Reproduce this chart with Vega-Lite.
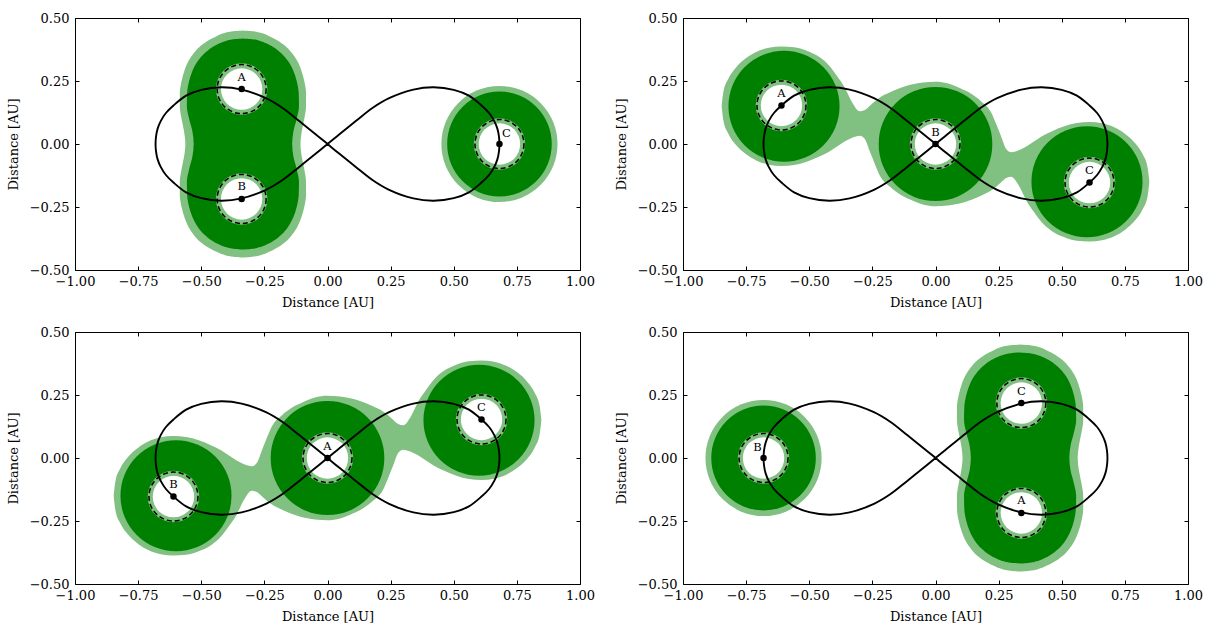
{
"$schema":"https://vega.github.io/schema/vega-lite/v6.json",
"padding":{"left":7,"top":12,"right":5,"bottom":5},
"background":"white",
"datasets":{
"orbit":[{"i":0,"x":0,"y":0},{"i":1,"x":0.046,"y":0.038},{"i":2,"x":0.112,"y":0.091},{"i":3,"x":0.178,"y":0.143},{"i":4,"x":0.244,"y":0.182},{"i":5,"x":0.34,"y":0.216},{"i":6,"x":0.42,"y":0.225},{"i":7,"x":0.5,"y":0.215},{"i":8,"x":0.56,"y":0.192},{"i":9,"x":0.61,"y":0.153},{"i":10,"x":0.64,"y":0.123},{"i":11,"x":0.66,"y":0.092},{"i":12,"x":0.673,"y":0.06},{"i":13,"x":0.679,"y":0.03},{"i":14,"x":0.681,"y":0},
{"i":15,"x":0.679,"y":-0.03},{"i":16,"x":0.673,"y":-0.06},{"i":17,"x":0.66,"y":-0.092},{"i":18,"x":0.64,"y":-0.123},{"i":19,"x":0.61,"y":-0.153},{"i":20,"x":0.56,"y":-0.192},{"i":21,"x":0.5,"y":-0.215},{"i":22,"x":0.42,"y":-0.225},{"i":23,"x":0.34,"y":-0.216},{"i":24,"x":0.244,"y":-0.182},{"i":25,"x":0.178,"y":-0.143},{"i":26,"x":0.112,"y":-0.091},{"i":27,"x":0.046,"y":-0.038},{"i":28,"x":0,"y":0},
{"i":29,"x":-0.046,"y":0.038},{"i":30,"x":-0.112,"y":0.091},{"i":31,"x":-0.178,"y":0.143},{"i":32,"x":-0.244,"y":0.182},{"i":33,"x":-0.34,"y":0.216},{"i":34,"x":-0.42,"y":0.225},{"i":35,"x":-0.5,"y":0.215},{"i":36,"x":-0.56,"y":0.192},{"i":37,"x":-0.61,"y":0.153},{"i":38,"x":-0.64,"y":0.123},{"i":39,"x":-0.66,"y":0.092},{"i":40,"x":-0.673,"y":0.06},{"i":41,"x":-0.679,"y":0.03},{"i":42,"x":-0.681,"y":0},
{"i":43,"x":-0.679,"y":-0.03},{"i":44,"x":-0.673,"y":-0.06},{"i":45,"x":-0.66,"y":-0.092},{"i":46,"x":-0.64,"y":-0.123},{"i":47,"x":-0.61,"y":-0.153},{"i":48,"x":-0.56,"y":-0.192},{"i":49,"x":-0.5,"y":-0.215},{"i":50,"x":-0.42,"y":-0.225},{"i":51,"x":-0.34,"y":-0.216},{"i":52,"x":-0.244,"y":-0.182},{"i":53,"x":-0.178,"y":-0.143},{"i":54,"x":-0.112,"y":-0.091},{"i":55,"x":-0.046,"y":-0.038},{"i":56,"x":0,"y":0}],
"stars":[{"p":1,"s":"A","x":-0.34,"y":0.218},{"p":1,"s":"B","x":-0.34,"y":-0.218},{"p":1,"s":"C","x":0.681,"y":0},
{"p":2,"s":"A","x":-0.61,"y":0.153},{"p":2,"s":"B","x":0,"y":0},{"p":2,"s":"C","x":0.61,"y":-0.153},
{"p":3,"s":"B","x":-0.61,"y":-0.153},{"p":3,"s":"A","x":0,"y":0},{"p":3,"s":"C","x":0.61,"y":0.153},
{"p":4,"s":"B","x":-0.681,"y":0},{"p":4,"s":"C","x":0.34,"y":0.218},{"p":4,"s":"A","x":0.34,"y":-0.218}],
"circ":[{"p":1,"k":"l","x":0.681,"y":0,"r":0.23},{"p":1,"k":"d","x":0.681,"y":0,"r":0.207},
{"p":2,"k":"d","x":-0.6,"y":0.15,"r":0.22},{"p":2,"k":"d","x":0,"y":0,"r":0.225},{"p":2,"k":"d","x":0.6,"y":-0.15,"r":0.22},
{"p":3,"k":"d","x":-0.6,"y":-0.15,"r":0.22},{"p":3,"k":"d","x":0,"y":0,"r":0.225},{"p":3,"k":"d","x":0.6,"y":0.15,"r":0.22},
{"p":4,"k":"l","x":-0.681,"y":0,"r":0.23},{"p":4,"k":"d","x":-0.681,"y":0,"r":0.207}],
"pea":[
{"p":1,"k":"d","y":0.419,"x":-0.335,"x2":-0.335},{"p":1,"k":"d","y":0.417,"x":-0.365,"x2":-0.305},{"p":1,"k":"d","y":0.41,"x":-0.4,"x2":-0.27},{"p":1,"k":"d","y":0.4,"x":-0.427,"x2":-0.243},{"p":1,"k":"d","y":0.385,"x":-0.455,"x2":-0.215},{"p":1,"k":"d","y":0.36,"x":-0.487,"x2":-0.183},{"p":1,"k":"d","y":0.33,"x":-0.513,"x2":-0.157},{"p":1,"k":"d","y":0.29,"x":-0.535,"x2":-0.135},{"p":1,"k":"d","y":0.25,"x":-0.548,"x2":-0.122},{"p":1,"k":"d","y":0.2,"x":-0.556,"x2":-0.114},{"p":1,"k":"d","y":0.15,"x":-0.557,"x2":-0.113},{"p":1,"k":"d","y":0.1,"x":-0.548,"x2":-0.122},{"p":1,"k":"d","y":0.05,"x":-0.535,"x2":-0.135},{"p":1,"k":"d","y":0,"x":-0.53,"x2":-0.14},
{"p":1,"k":"d","y":-0.05,"x":-0.535,"x2":-0.135},{"p":1,"k":"d","y":-0.1,"x":-0.548,"x2":-0.122},{"p":1,"k":"d","y":-0.15,"x":-0.557,"x2":-0.113},{"p":1,"k":"d","y":-0.2,"x":-0.556,"x2":-0.114},{"p":1,"k":"d","y":-0.25,"x":-0.548,"x2":-0.122},{"p":1,"k":"d","y":-0.29,"x":-0.535,"x2":-0.135},{"p":1,"k":"d","y":-0.33,"x":-0.513,"x2":-0.157},{"p":1,"k":"d","y":-0.36,"x":-0.487,"x2":-0.183},{"p":1,"k":"d","y":-0.385,"x":-0.455,"x2":-0.215},{"p":1,"k":"d","y":-0.4,"x":-0.427,"x2":-0.243},{"p":1,"k":"d","y":-0.41,"x":-0.4,"x2":-0.27},{"p":1,"k":"d","y":-0.417,"x":-0.365,"x2":-0.305},{"p":1,"k":"d","y":-0.419,"x":-0.335,"x2":-0.335},
{"p":1,"k":"l","y":0.45,"x":-0.335,"x2":-0.335},{"p":1,"k":"l","y":0.448,"x":-0.365,"x2":-0.305},{"p":1,"k":"l","y":0.441,"x":-0.405,"x2":-0.265},{"p":1,"k":"l","y":0.43,"x":-0.435,"x2":-0.235},{"p":1,"k":"l","y":0.415,"x":-0.465,"x2":-0.205},{"p":1,"k":"l","y":0.39,"x":-0.502,"x2":-0.168},{"p":1,"k":"l","y":0.36,"x":-0.53,"x2":-0.14},{"p":1,"k":"l","y":0.33,"x":-0.55,"x2":-0.12},{"p":1,"k":"l","y":0.29,"x":-0.567,"x2":-0.103},{"p":1,"k":"l","y":0.25,"x":-0.578,"x2":-0.092},{"p":1,"k":"l","y":0.2,"x":-0.585,"x2":-0.085},{"p":1,"k":"l","y":0.15,"x":-0.585,"x2":-0.085},{"p":1,"k":"l","y":0.1,"x":-0.578,"x2":-0.092},{"p":1,"k":"l","y":0.05,"x":-0.568,"x2":-0.102},{"p":1,"k":"l","y":0,"x":-0.563,"x2":-0.107},
{"p":1,"k":"l","y":-0.05,"x":-0.568,"x2":-0.102},{"p":1,"k":"l","y":-0.1,"x":-0.578,"x2":-0.092},{"p":1,"k":"l","y":-0.15,"x":-0.585,"x2":-0.085},{"p":1,"k":"l","y":-0.2,"x":-0.585,"x2":-0.085},{"p":1,"k":"l","y":-0.25,"x":-0.578,"x2":-0.092},{"p":1,"k":"l","y":-0.29,"x":-0.567,"x2":-0.103},{"p":1,"k":"l","y":-0.33,"x":-0.55,"x2":-0.12},{"p":1,"k":"l","y":-0.36,"x":-0.53,"x2":-0.14},{"p":1,"k":"l","y":-0.39,"x":-0.502,"x2":-0.168},{"p":1,"k":"l","y":-0.415,"x":-0.465,"x2":-0.205},{"p":1,"k":"l","y":-0.43,"x":-0.435,"x2":-0.235},{"p":1,"k":"l","y":-0.441,"x":-0.405,"x2":-0.265},{"p":1,"k":"l","y":-0.448,"x":-0.365,"x2":-0.305},{"p":1,"k":"l","y":-0.45,"x":-0.335,"x2":-0.335},
{"p":4,"k":"d","y":0.419,"x":0.335,"x2":0.335},{"p":4,"k":"d","y":0.417,"x":0.305,"x2":0.365},{"p":4,"k":"d","y":0.41,"x":0.27,"x2":0.4},{"p":4,"k":"d","y":0.4,"x":0.243,"x2":0.427},{"p":4,"k":"d","y":0.385,"x":0.215,"x2":0.455},{"p":4,"k":"d","y":0.36,"x":0.183,"x2":0.487},{"p":4,"k":"d","y":0.33,"x":0.157,"x2":0.513},{"p":4,"k":"d","y":0.29,"x":0.135,"x2":0.535},{"p":4,"k":"d","y":0.25,"x":0.122,"x2":0.548},{"p":4,"k":"d","y":0.2,"x":0.114,"x2":0.556},{"p":4,"k":"d","y":0.15,"x":0.113,"x2":0.557},{"p":4,"k":"d","y":0.1,"x":0.122,"x2":0.548},{"p":4,"k":"d","y":0.05,"x":0.135,"x2":0.535},{"p":4,"k":"d","y":0,"x":0.14,"x2":0.53},
{"p":4,"k":"d","y":-0.05,"x":0.135,"x2":0.535},{"p":4,"k":"d","y":-0.1,"x":0.122,"x2":0.548},{"p":4,"k":"d","y":-0.15,"x":0.113,"x2":0.557},{"p":4,"k":"d","y":-0.2,"x":0.114,"x2":0.556},{"p":4,"k":"d","y":-0.25,"x":0.122,"x2":0.548},{"p":4,"k":"d","y":-0.29,"x":0.135,"x2":0.535},{"p":4,"k":"d","y":-0.33,"x":0.157,"x2":0.513},{"p":4,"k":"d","y":-0.36,"x":0.183,"x2":0.487},{"p":4,"k":"d","y":-0.385,"x":0.215,"x2":0.455},{"p":4,"k":"d","y":-0.4,"x":0.243,"x2":0.427},{"p":4,"k":"d","y":-0.41,"x":0.27,"x2":0.4},{"p":4,"k":"d","y":-0.417,"x":0.305,"x2":0.365},{"p":4,"k":"d","y":-0.419,"x":0.335,"x2":0.335},
{"p":4,"k":"l","y":0.45,"x":0.335,"x2":0.335},{"p":4,"k":"l","y":0.448,"x":0.305,"x2":0.365},{"p":4,"k":"l","y":0.441,"x":0.265,"x2":0.405},{"p":4,"k":"l","y":0.43,"x":0.235,"x2":0.435},{"p":4,"k":"l","y":0.415,"x":0.205,"x2":0.465},{"p":4,"k":"l","y":0.39,"x":0.168,"x2":0.502},{"p":4,"k":"l","y":0.36,"x":0.14,"x2":0.53},{"p":4,"k":"l","y":0.33,"x":0.12,"x2":0.55},{"p":4,"k":"l","y":0.29,"x":0.103,"x2":0.567},{"p":4,"k":"l","y":0.25,"x":0.092,"x2":0.578},{"p":4,"k":"l","y":0.2,"x":0.085,"x2":0.585},{"p":4,"k":"l","y":0.15,"x":0.085,"x2":0.585},{"p":4,"k":"l","y":0.1,"x":0.092,"x2":0.578},{"p":4,"k":"l","y":0.05,"x":0.102,"x2":0.568},{"p":4,"k":"l","y":0,"x":0.107,"x2":0.563},
{"p":4,"k":"l","y":-0.05,"x":0.102,"x2":0.568},{"p":4,"k":"l","y":-0.1,"x":0.092,"x2":0.578},{"p":4,"k":"l","y":-0.15,"x":0.085,"x2":0.585},{"p":4,"k":"l","y":-0.2,"x":0.085,"x2":0.585},{"p":4,"k":"l","y":-0.25,"x":0.092,"x2":0.578},{"p":4,"k":"l","y":-0.29,"x":0.103,"x2":0.567},{"p":4,"k":"l","y":-0.33,"x":0.12,"x2":0.55},{"p":4,"k":"l","y":-0.36,"x":0.14,"x2":0.53},{"p":4,"k":"l","y":-0.39,"x":0.168,"x2":0.502},{"p":4,"k":"l","y":-0.415,"x":0.205,"x2":0.465},{"p":4,"k":"l","y":-0.43,"x":0.235,"x2":0.435},{"p":4,"k":"l","y":-0.441,"x":0.265,"x2":0.405},{"p":4,"k":"l","y":-0.448,"x":0.305,"x2":0.365},{"p":4,"k":"l","y":-0.45,"x":0.335,"x2":0.335}],
"chain":[
{"p":2,"x":-0.847,"y":0.15,"y2":0.15},{"p":2,"x":-0.84,"y":0.093,"y2":0.207},{"p":2,"x":-0.82,"y":0.04,"y2":0.26},{"p":2,"x":-0.79,"y":-0.004,"y2":0.304},{"p":2,"x":-0.75,"y":-0.041,"y2":0.341},{"p":2,"x":-0.71,"y":-0.065,"y2":0.365},{"p":2,"x":-0.66,"y":-0.082,"y2":0.382},{"p":2,"x":-0.61,"y":-0.087,"y2":0.387},{"p":2,"x":-0.56,"y":-0.083,"y2":0.384},{"p":2,"x":-0.51,"y":-0.07,"y2":0.37},{"p":2,"x":-0.46,"y":-0.05,"y2":0.345},{"p":2,"x":-0.42,"y":-0.03,"y2":0.31},{"p":2,"x":-0.39,"y":-0.01,"y2":0.27},{"p":2,"x":-0.36,"y":0.01,"y2":0.225},{"p":2,"x":-0.33,"y":0.025,"y2":0.165},{"p":2,"x":-0.3,"y":0.033,"y2":0.13},{"p":2,"x":-0.28,"y":0.02,"y2":0.135},{"p":2,"x":-0.26,"y":-0.03,"y2":0.152},{"p":2,"x":-0.24,"y":-0.08,"y2":0.17},{"p":2,"x":-0.22,"y":-0.126,"y2":0.185},{"p":2,"x":-0.18,"y":-0.17,"y2":0.205},{"p":2,"x":-0.14,"y":-0.2,"y2":0.222},{"p":2,"x":-0.1,"y":-0.22,"y2":0.235},{"p":2,"x":-0.05,"y":-0.24,"y2":0.244},{"p":2,"x":0,"y":-0.247,"y2":0.247},
{"p":2,"x":0.05,"y":-0.244,"y2":0.24},{"p":2,"x":0.1,"y":-0.235,"y2":0.22},{"p":2,"x":0.14,"y":-0.222,"y2":0.2},{"p":2,"x":0.18,"y":-0.205,"y2":0.17},{"p":2,"x":0.22,"y":-0.185,"y2":0.126},{"p":2,"x":0.24,"y":-0.17,"y2":0.08},{"p":2,"x":0.26,"y":-0.152,"y2":0.03},{"p":2,"x":0.28,"y":-0.135,"y2":-0.02},{"p":2,"x":0.3,"y":-0.13,"y2":-0.033},{"p":2,"x":0.33,"y":-0.165,"y2":-0.025},{"p":2,"x":0.36,"y":-0.225,"y2":-0.01},{"p":2,"x":0.39,"y":-0.27,"y2":0.01},{"p":2,"x":0.42,"y":-0.31,"y2":0.03},{"p":2,"x":0.46,"y":-0.345,"y2":0.05},{"p":2,"x":0.51,"y":-0.37,"y2":0.07},{"p":2,"x":0.56,"y":-0.384,"y2":0.083},{"p":2,"x":0.61,"y":-0.387,"y2":0.087},{"p":2,"x":0.66,"y":-0.382,"y2":0.082},{"p":2,"x":0.71,"y":-0.365,"y2":0.065},{"p":2,"x":0.75,"y":-0.341,"y2":0.041},{"p":2,"x":0.79,"y":-0.304,"y2":0.004},{"p":2,"x":0.82,"y":-0.26,"y2":-0.04},{"p":2,"x":0.84,"y":-0.207,"y2":-0.093},{"p":2,"x":0.847,"y":-0.15,"y2":-0.15},
{"p":3,"x":-0.847,"y":-0.15,"y2":-0.15},{"p":3,"x":-0.84,"y":-0.207,"y2":-0.093},{"p":3,"x":-0.82,"y":-0.26,"y2":-0.04},{"p":3,"x":-0.79,"y":-0.304,"y2":0.004},{"p":3,"x":-0.75,"y":-0.341,"y2":0.041},{"p":3,"x":-0.71,"y":-0.365,"y2":0.065},{"p":3,"x":-0.66,"y":-0.382,"y2":0.082},{"p":3,"x":-0.61,"y":-0.387,"y2":0.087},{"p":3,"x":-0.56,"y":-0.384,"y2":0.083},{"p":3,"x":-0.51,"y":-0.37,"y2":0.07},{"p":3,"x":-0.46,"y":-0.345,"y2":0.05},{"p":3,"x":-0.42,"y":-0.31,"y2":0.03},{"p":3,"x":-0.39,"y":-0.27,"y2":0.01},{"p":3,"x":-0.36,"y":-0.225,"y2":-0.01},{"p":3,"x":-0.33,"y":-0.165,"y2":-0.025},{"p":3,"x":-0.3,"y":-0.13,"y2":-0.033},{"p":3,"x":-0.28,"y":-0.135,"y2":-0.02},{"p":3,"x":-0.26,"y":-0.152,"y2":0.03},{"p":3,"x":-0.24,"y":-0.17,"y2":0.08},{"p":3,"x":-0.22,"y":-0.185,"y2":0.126},{"p":3,"x":-0.18,"y":-0.205,"y2":0.17},{"p":3,"x":-0.14,"y":-0.222,"y2":0.2},{"p":3,"x":-0.1,"y":-0.235,"y2":0.22},{"p":3,"x":-0.05,"y":-0.244,"y2":0.24},{"p":3,"x":0,"y":-0.247,"y2":0.247},
{"p":3,"x":0.05,"y":-0.24,"y2":0.244},{"p":3,"x":0.1,"y":-0.22,"y2":0.235},{"p":3,"x":0.14,"y":-0.2,"y2":0.222},{"p":3,"x":0.18,"y":-0.17,"y2":0.205},{"p":3,"x":0.22,"y":-0.126,"y2":0.185},{"p":3,"x":0.24,"y":-0.08,"y2":0.17},{"p":3,"x":0.26,"y":-0.03,"y2":0.152},{"p":3,"x":0.28,"y":0.02,"y2":0.135},{"p":3,"x":0.3,"y":0.033,"y2":0.13},{"p":3,"x":0.33,"y":0.025,"y2":0.165},{"p":3,"x":0.36,"y":0.01,"y2":0.225},{"p":3,"x":0.39,"y":-0.01,"y2":0.27},{"p":3,"x":0.42,"y":-0.03,"y2":0.31},{"p":3,"x":0.46,"y":-0.05,"y2":0.345},{"p":3,"x":0.51,"y":-0.07,"y2":0.37},{"p":3,"x":0.56,"y":-0.083,"y2":0.384},{"p":3,"x":0.61,"y":-0.087,"y2":0.387},{"p":3,"x":0.66,"y":-0.082,"y2":0.382},{"p":3,"x":0.71,"y":-0.065,"y2":0.365},{"p":3,"x":0.75,"y":-0.041,"y2":0.341},{"p":3,"x":0.79,"y":-0.004,"y2":0.304},{"p":3,"x":0.82,"y":0.04,"y2":0.26},{"p":3,"x":0.84,"y":0.093,"y2":0.207},{"p":3,"x":0.847,"y":0.15,"y2":0.15}]
},
"columns":2,
"spacing":{"row":62,"column":103},
"bounds":"flush",
"concat":[
{"width":505,"height":252,
"encoding":{"x":{"field":"x","type":"quantitative","scale":{"domain":[-1,1],"nice":false,"zero":false},"axis":null},"y":{"field":"y","type":"quantitative","scale":{"domain":[-0.5,0.5],"nice":false,"zero":false},"axis":null}},
"resolve":{"axis":{"x":"independent","y":"independent"}},
"layer":[
{"data":{"name":"pea"},"transform":[{"filter":"datum.p==1 && datum.k=='l'"}],"mark":{"type":"area","orient":"horizontal","interpolate":"monotone","color":"#80c080"},"encoding":{"x":{"field":"x","type":"quantitative","scale":{"domain":[-1,1],"nice":false,"zero":false},"axis":{"orient":"bottom","values":[-1,-0.75,-0.5,-0.25,0,0.25,0.5,0.75,1],"format":".2f","title":"Distance [AU]","labelPadding":9,"titlePadding":8}},"x2":{"field":"x2"},"y":{"field":"y","type":"quantitative","scale":{"domain":[-0.5,0.5],"nice":false,"zero":false},"axis":{"orient":"left","values":[-0.5,-0.25,0,0.25,0.5],"format":".2f","title":"Distance [AU]","labelPadding":10,"titlePadding":9}}}},
{"data":{"name":"circ"},"transform":[{"filter":"datum.p==1 && datum.k=='l'"}],"mark":{"type":"point","shape":"circle","filled":true,"color":"#80c080","opacity":1,"strokeWidth":0},"encoding":{"size":{"field":"r","type":"quantitative","scale":{"type":"pow","exponent":2,"domain":[0,1],"range":[0,255025]},"legend":null}}},
{"data":{"name":"pea"},"transform":[{"filter":"datum.p==1 && datum.k=='d'"}],"mark":{"type":"area","orient":"horizontal","interpolate":"monotone","color":"#008000"},"encoding":{"x2":{"field":"x2"}}},
{"data":{"name":"circ"},"transform":[{"filter":"datum.p==1 && datum.k=='d'"}],"mark":{"type":"point","shape":"circle","filled":true,"color":"#008000","opacity":1,"strokeWidth":0},"encoding":{"size":{"field":"r","type":"quantitative","scale":{"type":"pow","exponent":2,"domain":[0,1],"range":[0,255025]},"legend":null}}},
{"data":{"name":"stars"},"transform":[{"filter":"datum.p==1"}],"mark":{"type":"point","shape":"circle","filled":true,"color":"#80c080","opacity":1,"strokeWidth":0,"size":2652}},
{"data":{"name":"stars"},"transform":[{"filter":"datum.p==1"}],"mark":{"type":"point","shape":"circle","filled":true,"color":"#ffffff","opacity":1,"strokeWidth":0,"size":1714}},
{"data":{"name":"stars"},"transform":[{"filter":"datum.p==1"}],"mark":{"type":"point","shape":"circle","filled":false,"stroke":"#000000","opacity":1,"strokeWidth":1.5,"strokeDash":[5,3],"size":2400}},
{"data":{"name":"orbit"},"mark":{"type":"line","color":"#000000","strokeWidth":1.9,"interpolate":"catmull-rom"},"encoding":{"order":{"field":"i","type":"quantitative"}}},
{"data":{"name":"stars"},"transform":[{"filter":"datum.p==1"}],"mark":{"type":"point","shape":"circle","filled":true,"color":"#000000","opacity":1,"size":42},"encoding":{"x":{"field":"x","type":"quantitative","scale":{"domain":[-1,1],"nice":false,"zero":false},"axis":{"orient":"top","values":[-1,-0.75,-0.5,-0.25,0,0.25,0.5,0.75,1],"labels":false,"title":null}},"y":{"field":"y","type":"quantitative","scale":{"domain":[-0.5,0.5],"nice":false,"zero":false},"axis":{"orient":"right","values":[-0.5,-0.25,0,0.25,0.5],"labels":false,"title":null}}}},
{"data":{"name":"stars"},"transform":[{"filter":"datum.p==1 && datum.s!='C'"}],"mark":{"type":"text","font":"DejaVu Serif","fontSize":11.5,"color":"#000000","dy":-11.5,"baseline":"middle"},"encoding":{"text":{"field":"s"}}},
{"data":{"name":"stars"},"transform":[{"filter":"datum.p==1 && datum.s=='C'"}],"mark":{"type":"text","font":"DejaVu Serif","fontSize":11.5,"color":"#000000","dy":-10,"dx":7,"baseline":"middle"},"encoding":{"text":{"field":"s"}}}
]},
{"width":505,"height":252,
"encoding":{"x":{"field":"x","type":"quantitative","scale":{"domain":[-1,1],"nice":false,"zero":false},"axis":null},"y":{"field":"y","type":"quantitative","scale":{"domain":[-0.5,0.5],"nice":false,"zero":false},"axis":null}},
"resolve":{"axis":{"x":"independent","y":"independent"}},
"layer":[
{"data":{"name":"chain"},"transform":[{"filter":"datum.p==2"}],"mark":{"type":"area","orient":"vertical","interpolate":"monotone","color":"#80c080"},"encoding":{"x":{"field":"x","type":"quantitative","scale":{"domain":[-1,1],"nice":false,"zero":false},"axis":{"orient":"bottom","values":[-1,-0.75,-0.5,-0.25,0,0.25,0.5,0.75,1],"format":".2f","title":"Distance [AU]","labelPadding":9,"titlePadding":8}},"y2":{"field":"y2"},"y":{"field":"y","type":"quantitative","scale":{"domain":[-0.5,0.5],"nice":false,"zero":false},"axis":{"orient":"left","values":[-0.5,-0.25,0,0.25,0.5],"format":".2f","title":"Distance [AU]","labelPadding":10,"titlePadding":9}}}},
{"data":{"name":"circ"},"transform":[{"filter":"datum.p==2 && datum.k=='d'"}],"mark":{"type":"point","shape":"circle","filled":true,"color":"#008000","opacity":1,"strokeWidth":0},"encoding":{"size":{"field":"r","type":"quantitative","scale":{"type":"pow","exponent":2,"domain":[0,1],"range":[0,255025]},"legend":null}}},
{"data":{"name":"stars"},"transform":[{"filter":"datum.p==2"}],"mark":{"type":"point","shape":"circle","filled":true,"color":"#80c080","opacity":1,"strokeWidth":0,"size":2652}},
{"data":{"name":"stars"},"transform":[{"filter":"datum.p==2"}],"mark":{"type":"point","shape":"circle","filled":true,"color":"#ffffff","opacity":1,"strokeWidth":0,"size":1714}},
{"data":{"name":"stars"},"transform":[{"filter":"datum.p==2"}],"mark":{"type":"point","shape":"circle","filled":false,"stroke":"#000000","opacity":1,"strokeWidth":1.5,"strokeDash":[5,3],"size":2400}},
{"data":{"name":"orbit"},"mark":{"type":"line","color":"#000000","strokeWidth":1.9,"interpolate":"catmull-rom"},"encoding":{"order":{"field":"i","type":"quantitative"}}},
{"data":{"name":"stars"},"transform":[{"filter":"datum.p==2"}],"mark":{"type":"point","shape":"circle","filled":true,"color":"#000000","opacity":1,"size":42},"encoding":{"x":{"field":"x","type":"quantitative","scale":{"domain":[-1,1],"nice":false,"zero":false},"axis":{"orient":"top","values":[-1,-0.75,-0.5,-0.25,0,0.25,0.5,0.75,1],"labels":false,"title":null}},"y":{"field":"y","type":"quantitative","scale":{"domain":[-0.5,0.5],"nice":false,"zero":false},"axis":{"orient":"right","values":[-0.5,-0.25,0,0.25,0.5],"labels":false,"title":null}}}},
{"data":{"name":"stars"},"transform":[{"filter":"datum.p==2"}],"mark":{"type":"text","font":"DejaVu Serif","fontSize":11.5,"color":"#000000","dy":-11.5,"baseline":"middle"},"encoding":{"text":{"field":"s"}}}
]},
{"width":505,"height":252,
"encoding":{"x":{"field":"x","type":"quantitative","scale":{"domain":[-1,1],"nice":false,"zero":false},"axis":null},"y":{"field":"y","type":"quantitative","scale":{"domain":[-0.5,0.5],"nice":false,"zero":false},"axis":null}},
"resolve":{"axis":{"x":"independent","y":"independent"}},
"layer":[
{"data":{"name":"chain"},"transform":[{"filter":"datum.p==3"}],"mark":{"type":"area","orient":"vertical","interpolate":"monotone","color":"#80c080"},"encoding":{"x":{"field":"x","type":"quantitative","scale":{"domain":[-1,1],"nice":false,"zero":false},"axis":{"orient":"bottom","values":[-1,-0.75,-0.5,-0.25,0,0.25,0.5,0.75,1],"format":".2f","title":"Distance [AU]","labelPadding":9,"titlePadding":8}},"y2":{"field":"y2"},"y":{"field":"y","type":"quantitative","scale":{"domain":[-0.5,0.5],"nice":false,"zero":false},"axis":{"orient":"left","values":[-0.5,-0.25,0,0.25,0.5],"format":".2f","title":"Distance [AU]","labelPadding":10,"titlePadding":9}}}},
{"data":{"name":"circ"},"transform":[{"filter":"datum.p==3 && datum.k=='d'"}],"mark":{"type":"point","shape":"circle","filled":true,"color":"#008000","opacity":1,"strokeWidth":0},"encoding":{"size":{"field":"r","type":"quantitative","scale":{"type":"pow","exponent":2,"domain":[0,1],"range":[0,255025]},"legend":null}}},
{"data":{"name":"stars"},"transform":[{"filter":"datum.p==3"}],"mark":{"type":"point","shape":"circle","filled":true,"color":"#80c080","opacity":1,"strokeWidth":0,"size":2652}},
{"data":{"name":"stars"},"transform":[{"filter":"datum.p==3"}],"mark":{"type":"point","shape":"circle","filled":true,"color":"#ffffff","opacity":1,"strokeWidth":0,"size":1714}},
{"data":{"name":"stars"},"transform":[{"filter":"datum.p==3"}],"mark":{"type":"point","shape":"circle","filled":false,"stroke":"#000000","opacity":1,"strokeWidth":1.5,"strokeDash":[5,3],"size":2400}},
{"data":{"name":"orbit"},"mark":{"type":"line","color":"#000000","strokeWidth":1.9,"interpolate":"catmull-rom"},"encoding":{"order":{"field":"i","type":"quantitative"}}},
{"data":{"name":"stars"},"transform":[{"filter":"datum.p==3"}],"mark":{"type":"point","shape":"circle","filled":true,"color":"#000000","opacity":1,"size":42},"encoding":{"x":{"field":"x","type":"quantitative","scale":{"domain":[-1,1],"nice":false,"zero":false},"axis":{"orient":"top","values":[-1,-0.75,-0.5,-0.25,0,0.25,0.5,0.75,1],"labels":false,"title":null}},"y":{"field":"y","type":"quantitative","scale":{"domain":[-0.5,0.5],"nice":false,"zero":false},"axis":{"orient":"right","values":[-0.5,-0.25,0,0.25,0.5],"labels":false,"title":null}}}},
{"data":{"name":"stars"},"transform":[{"filter":"datum.p==3"}],"mark":{"type":"text","font":"DejaVu Serif","fontSize":11.5,"color":"#000000","dy":-11.5,"baseline":"middle"},"encoding":{"text":{"field":"s"}}}
]},
{"width":505,"height":252,
"encoding":{"x":{"field":"x","type":"quantitative","scale":{"domain":[-1,1],"nice":false,"zero":false},"axis":null},"y":{"field":"y","type":"quantitative","scale":{"domain":[-0.5,0.5],"nice":false,"zero":false},"axis":null}},
"resolve":{"axis":{"x":"independent","y":"independent"}},
"layer":[
{"data":{"name":"pea"},"transform":[{"filter":"datum.p==4 && datum.k=='l'"}],"mark":{"type":"area","orient":"horizontal","interpolate":"monotone","color":"#80c080"},"encoding":{"x":{"field":"x","type":"quantitative","scale":{"domain":[-1,1],"nice":false,"zero":false},"axis":{"orient":"bottom","values":[-1,-0.75,-0.5,-0.25,0,0.25,0.5,0.75,1],"format":".2f","title":"Distance [AU]","labelPadding":9,"titlePadding":8}},"x2":{"field":"x2"},"y":{"field":"y","type":"quantitative","scale":{"domain":[-0.5,0.5],"nice":false,"zero":false},"axis":{"orient":"left","values":[-0.5,-0.25,0,0.25,0.5],"format":".2f","title":"Distance [AU]","labelPadding":10,"titlePadding":9}}}},
{"data":{"name":"circ"},"transform":[{"filter":"datum.p==4 && datum.k=='l'"}],"mark":{"type":"point","shape":"circle","filled":true,"color":"#80c080","opacity":1,"strokeWidth":0},"encoding":{"size":{"field":"r","type":"quantitative","scale":{"type":"pow","exponent":2,"domain":[0,1],"range":[0,255025]},"legend":null}}},
{"data":{"name":"pea"},"transform":[{"filter":"datum.p==4 && datum.k=='d'"}],"mark":{"type":"area","orient":"horizontal","interpolate":"monotone","color":"#008000"},"encoding":{"x2":{"field":"x2"}}},
{"data":{"name":"circ"},"transform":[{"filter":"datum.p==4 && datum.k=='d'"}],"mark":{"type":"point","shape":"circle","filled":true,"color":"#008000","opacity":1,"strokeWidth":0},"encoding":{"size":{"field":"r","type":"quantitative","scale":{"type":"pow","exponent":2,"domain":[0,1],"range":[0,255025]},"legend":null}}},
{"data":{"name":"stars"},"transform":[{"filter":"datum.p==4"}],"mark":{"type":"point","shape":"circle","filled":true,"color":"#80c080","opacity":1,"strokeWidth":0,"size":2652}},
{"data":{"name":"stars"},"transform":[{"filter":"datum.p==4"}],"mark":{"type":"point","shape":"circle","filled":true,"color":"#ffffff","opacity":1,"strokeWidth":0,"size":1714}},
{"data":{"name":"stars"},"transform":[{"filter":"datum.p==4"}],"mark":{"type":"point","shape":"circle","filled":false,"stroke":"#000000","opacity":1,"strokeWidth":1.5,"strokeDash":[5,3],"size":2400}},
{"data":{"name":"orbit"},"mark":{"type":"line","color":"#000000","strokeWidth":1.9,"interpolate":"catmull-rom"},"encoding":{"order":{"field":"i","type":"quantitative"}}},
{"data":{"name":"stars"},"transform":[{"filter":"datum.p==4"}],"mark":{"type":"point","shape":"circle","filled":true,"color":"#000000","opacity":1,"size":42},"encoding":{"x":{"field":"x","type":"quantitative","scale":{"domain":[-1,1],"nice":false,"zero":false},"axis":{"orient":"top","values":[-1,-0.75,-0.5,-0.25,0,0.25,0.5,0.75,1],"labels":false,"title":null}},"y":{"field":"y","type":"quantitative","scale":{"domain":[-0.5,0.5],"nice":false,"zero":false},"axis":{"orient":"right","values":[-0.5,-0.25,0,0.25,0.5],"labels":false,"title":null}}}},
{"data":{"name":"stars"},"transform":[{"filter":"datum.p==4 && datum.s!='B'"}],"mark":{"type":"text","font":"DejaVu Serif","fontSize":11.5,"color":"#000000","dy":-11.5,"baseline":"middle"},"encoding":{"text":{"field":"s"}}},
{"data":{"name":"stars"},"transform":[{"filter":"datum.p==4 && datum.s=='B'"}],"mark":{"type":"text","font":"DejaVu Serif","fontSize":11.5,"color":"#000000","dy":-10,"dx":-6,"baseline":"middle"},"encoding":{"text":{"field":"s"}}}
]}
],
"config":{
"view":{"stroke":null},
"font":"DejaVu Serif",
"axis":{"domainColor":"#000000","domainWidth":1,"tickColor":"#000000","tickWidth":1,"tickSize":-4,"labelColor":"#000000","labelFont":"DejaVu Serif","labelFontSize":13,"titleColor":"#000000","titleFont":"DejaVu Serif","titleFontSize":13,"titleFontWeight":"normal","grid":false,"labelFlush":false,"labelOverlap":false}
}
}
